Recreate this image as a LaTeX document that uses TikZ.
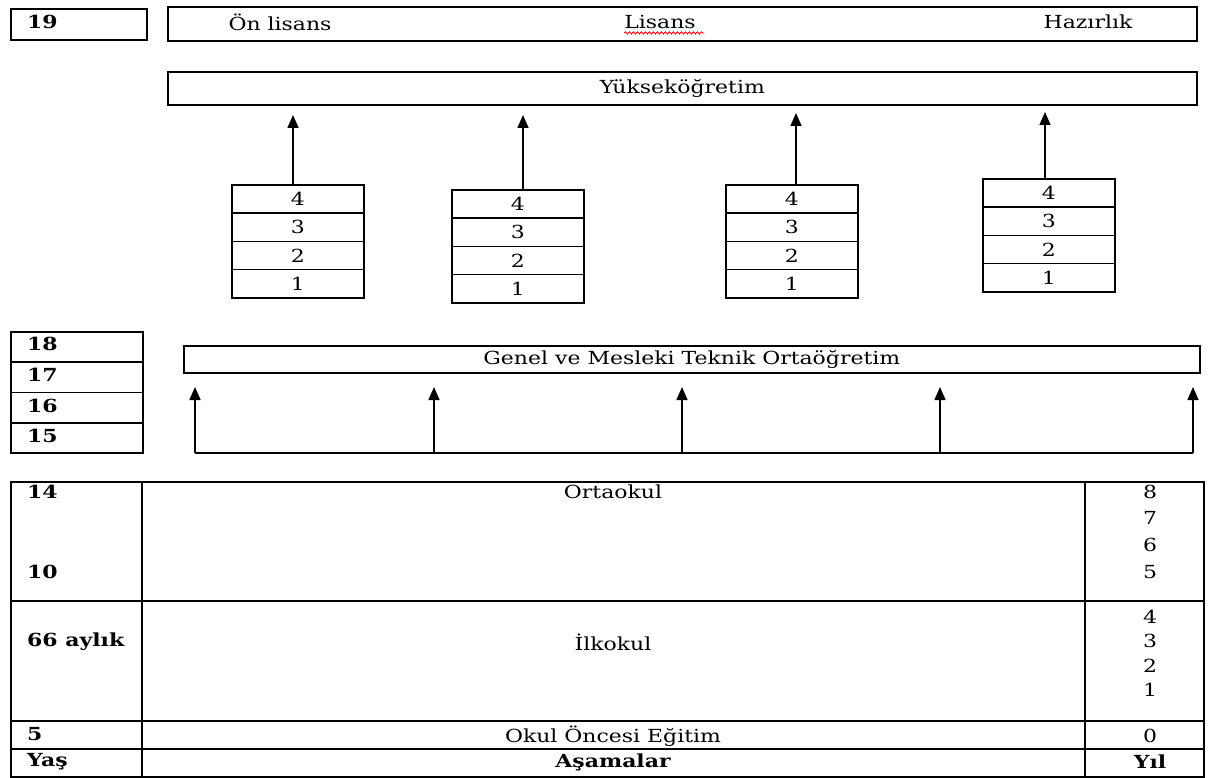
\documentclass[tikz,border=0pt]{standalone}
\usepackage{fontspec}
\setmainfont{DejaVu Serif}[FakeStretch=1.22]
\usetikzlibrary{arrows.meta,decorations.pathmorphing}
\begin{document}
\begin{tikzpicture}[x=1pt,y=-1pt,
  box/.style={draw,line width=1.6pt,inner sep=0pt,anchor=north west},
  cell/.style={draw,line width=1.6pt,inner sep=0pt,minimum width=132pt,minimum height=28.3pt,anchor=north west,font=\fontsize{18}{18}\selectfont},
  txt/.style={inner sep=0pt,font=\fontsize{18}{18}\selectfont},
  btxt/.style={inner sep=0pt,anchor=west,font=\fontsize{18}{18}\selectfont\bfseries},
  up/.style={line width=1.6pt,-{Triangle[width=11pt,length=13pt]}},
  ln/.style={line width=1.6pt}]
\useasboundingbox (0,0) rectangle (1208,778);
% top row
\node[box,minimum width=136pt,minimum height=31pt] (age19) at (10,8) {};
\node[btxt] (t19) at (27,22) {19};
\node[box,minimum width=1029pt,minimum height=34pt] (prog) at (167,6) {};
\node[txt] (onl) at (280,22) {Ön lisans};
\node[txt] (lis) at (660,22) {Lisans};
\draw[red,line width=0.8pt,decorate,decoration={snake,amplitude=1.2pt,segment length=4pt}] (lis.south west)++(0,4) -- ++(80,0);
\node[txt] (haz) at (1088,22) {Hazırlık};
% higher education
\node[box,minimum width=1029pt,minimum height=33pt] (yuk) at (167,71) {};
\node[txt] at (yuk.center) {Yükseköğretim};
% stacks
\foreach \n/\x/\y in {a/231/184, b/451/189, c/725/184, d/982/178}{
  \node[cell] (\n4) at (\x,\y) {4};
  \node[cell] (\n3) at (\x,\y+28.3) {3};
  \node[cell] (\n2) at (\x,\y+56.6) {2};
  \node[cell] (\n1) at (\x,\y+84.9) {1};
}
\coordinate (ea) at (293,115);
\coordinate (eb) at (523,115);
\coordinate (ec) at (796,113);
\coordinate (ed) at (1045,112);
\draw[up] (a4.north -| ea) -- (ea);
\draw[up] (b4.north -| eb) -- (eb);
\draw[up] (c4.north -| ec) -- (ec);
\draw[up] (d4.north -| ed) -- (ed);
% ages 18-15
\node[box,minimum width=132pt,minimum height=30.3pt] (g18) at (10,331) {};
\node[box,minimum width=132pt,minimum height=30.3pt] (g17) at (10,361.3) {};
\node[box,minimum width=132pt,minimum height=30.3pt] (g16) at (10,391.6) {};
\node[box,minimum width=132pt,minimum height=30.3pt] (g15) at (10,421.9) {};
\node[btxt] at (27,344) {18};
\node[btxt] at (27,375) {17};
\node[btxt] at (27,406) {16};
\node[btxt] at (27,436) {15};
% secondary
\node[box,minimum width=1016pt,minimum height=27pt] (gen) at (183,345) {};
\node[txt] at (gen.center) {Genel ve Mesleki Teknik Ortaöğretim};
\coordinate (b1) at (195,453);
\coordinate (b2) at (434,453);
\coordinate (b3) at (682,453);
\coordinate (b4) at (940,453);
\coordinate (b5) at (1193,453);
\draw[ln] (b1) -- (b5);
\foreach \c in {b1,b2,b3,b4,b5}{
  \draw[up] (\c) -- ++(0,-66);
}
% bottom table
\node[box,minimum width=1193pt,minimum height=295pt] (tab) at (10,481) {};
\draw[ln] (142,481) -- (142,776);
\draw[ln] (1085,481) -- (1085,776);
\draw[ln] (10,601) -- (1203,601);
\draw[ln] (10,721) -- (1203,721);
\draw[ln] (10,749) -- (1203,749);
\node[btxt] at (27,492) {14};
\node[btxt] at (27,572) {10};
\node[btxt] at (27,642) {66 aylık};
\node[btxt] at (27,734) {5};
\node[btxt] at (27,762) {Yaş};
\node[txt] at (613,492) {Ortaokul};
\node[txt] at (613,642) {İlkokul};
\node[txt] at (613,736) {Okul Öncesi Eğitim};
\node[txt,font=\fontsize{18}{18}\selectfont\bfseries] at (613,762) {Aşamalar};
\foreach \v/\y in {8/492,7/518,6/545,5/572,4/617,3/641,2/666,1/690,0/736}{
  \node[txt] at (1150,\y) {\v};
}
\node[txt,font=\fontsize{18}{18}\selectfont\bfseries] at (1150,762) {Yıl};
\end{tikzpicture}
\end{document}
